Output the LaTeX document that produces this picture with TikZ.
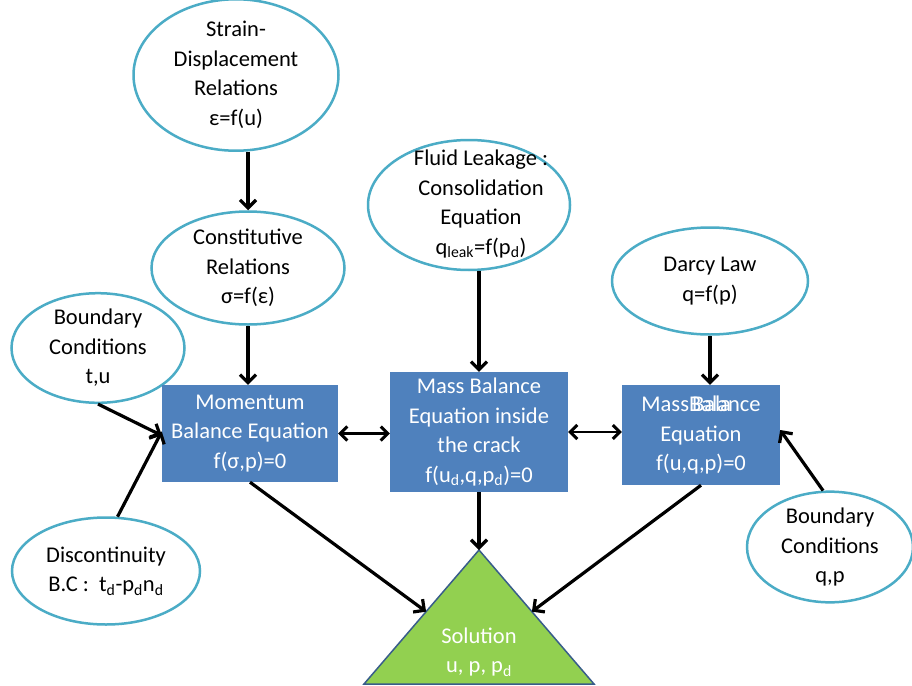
\documentclass[tikz,border=0pt]{standalone}
\usepackage{fontspec}
\setmainfont{Carlito}
\usetikzlibrary{shapes.geometric,arrows.meta,calc}
\definecolor{ellblue}{HTML}{4BACC6}
\definecolor{boxblue}{HTML}{4F81BD}
\definecolor{trigreen}{HTML}{92D050}
\definecolor{triedge}{HTML}{385D8A}
\begin{document}
\begin{tikzpicture}[x=1pt,y=-1pt,
  every node/.style={font=\fontsize{22.5}{29.5}\selectfont, align=center},
  ell/.style={ellipse, draw=ellblue, line width=2.5pt, fill=white, inner sep=0pt},
  bx/.style={rectangle, fill=boxblue, text=white, inner sep=0pt},
  arr/.style={line width=3.2pt, -{Straight Barb[length=8pt,width=16pt]}},
  darr/.style={line width=2.9pt, {Straight Barb[length=7pt,width=14pt]}-{Straight Barb[length=7pt,width=14pt]}}]
\useasboundingbox (0,0) rectangle (912,685);
\clip (0,0) rectangle (912,685);
\fill[white] (0,0) rectangle (912,685);

% ellipses
\node[ell, minimum width=205pt, minimum height=125pt] (strain) at (236,75) {Strain-\\Displacement\\Relations\\ε=f(u)};
\node[ell, minimum width=193pt, minimum height=113pt] (const) at (248,268) {Constitutive\\Relations\\σ=f(ε)};
\node[ell, minimum width=202pt, minimum height=130pt] (fluid) at (469,205) {};
\node (fluidtxt) at (481,204) {Fluid Leakage :\\Consolidation\\Equation\\q\textsubscript{leak}=f(p\textsubscript{d})};
\node[ell, minimum width=196pt, minimum height=107pt] (darcy) at (710,281) {Darcy Law\\q=f(p)};
\node[ell, minimum width=173pt, minimum height=100pt] (btu) at (98,348) {Boundary\\Conditions\\t,u};
\node[ell, minimum width=188pt, minimum height=107pt] (disc) at (106,571) {Discontinuity\\B.C :\ \ t\textsubscript{d}-p\textsubscript{d}n\textsubscript{d}};
\node[ell, minimum width=166pt, minimum height=107pt] (bqp) at (830,547) {Boundary\\Conditions\\q,p};

% boxes
\node[bx, minimum width=176pt, minimum height=97pt] (mom) at (250,433.5) {Momentum\\Balance Equation\\f(σ,p)=0};
\node[bx, minimum width=178pt, minimum height=120pt] (crack) at (479,432) {Mass Balance\\Equation inside\\the crack\\f(u\textsubscript{d},q,p\textsubscript{d})=0};
\node[bx, minimum width=158pt, minimum height=100pt] (mbr) at (701,435) {Mass\rlap{\kern3pt Bala}Balance\\Equation\\f(u,q,p)=0};

% triangle
\coordinate (apex) at (479,550);
\coordinate (bl) at (364,684);
\coordinate (br) at (594,684);
\filldraw[fill=trigreen, draw=triedge, line width=1.5pt] (apex) -- (br) -- (bl) -- cycle;
\node[text=white] (sol) at (479,652) {Solution\\u, p, p\textsubscript{d}};
\coordinate (tl) at ($(apex)!0.46!(bl)$);
\coordinate (tr) at ($(apex)!0.46!(br)$);

% arrows
\draw[arr] (const.north |- strain.south) -- (const.north);
\draw[arr] (const.south) -- (const.south |- mom.north);
\draw[arr] (fluid.south -| crack.north) -- (crack.north);
\draw[arr] (darcy.south) -- (darcy.south |- mbr.north);
\draw[arr] (btu.south) -- ([yshift=-2pt]mom.west);
\draw[arr] (disc.78) -- ([yshift=2pt]mom.west);
\draw[arr] (bqp.97) -- ([yshift=5pt]mbr.east);
\draw[darr] (mom.east) -- (mom.east -| crack.west);
\draw[darr] (crack.east) -- (crack.east -| mbr.west);
\draw[arr] (mom.south) -- (tl);
\draw[arr] (crack.south) -- (apex);
\draw[arr] (mbr.south) -- (tr);
\end{tikzpicture}
\end{document}
